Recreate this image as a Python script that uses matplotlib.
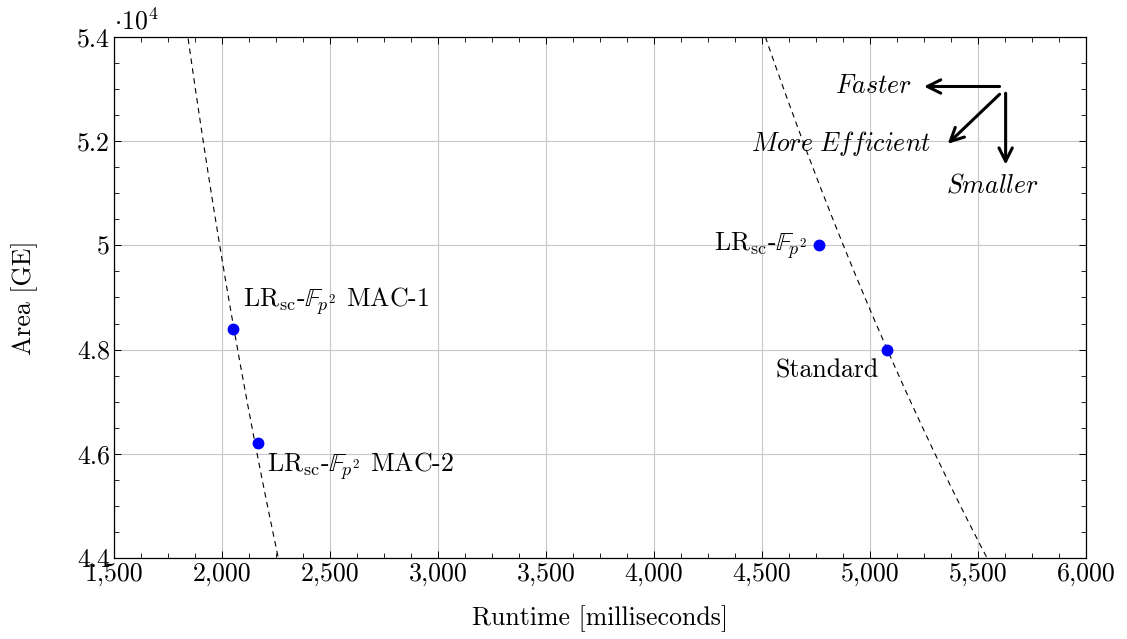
import numpy as np
import matplotlib.pyplot as plt
from matplotlib.ticker import MultipleLocator, FuncFormatter

plt.rcParams['font.family'] = 'serif'
plt.rcParams['font.serif'] = ['cmr10']
plt.rcParams['mathtext.fontset'] = 'cm'
plt.rcParams['axes.formatter.use_mathtext'] = True
plt.rcParams['font.size'] = 18.6

# data: runtime [ms], area [GE]
names = [r'LR$_{\rm sc}$-$\mathbb{F}_{p^2}$ MAC-1',
         r'LR$_{\rm sc}$-$\mathbb{F}_{p^2}$ MAC-2',
         r'LR$_{\rm sc}$-$\mathbb{F}_{p^2}$',
         'Standard']
runtime = [2050, 2165, 4765, 5080]
area = [48400, 46200, 50000, 48000]

# iso area*time curves (ms * GE)
iso_left = 2055 * 48400
iso_right = 5080 * 48000

fig = plt.figure(figsize=(11.27, 6.39), dpi=100)
ax = fig.add_axes([0.1012, 0.1268, 0.8624, 0.8153])

xs = np.linspace(1500, 6000, 600)
ax.plot(xs, iso_left / xs, 'k--', lw=0.8, dashes=(5, 4))
ax.plot(xs, iso_right / xs, 'k--', lw=0.8, dashes=(5, 4))

ax.plot(runtime, area, 'o', color='#0000ff', ms=7.5, zorder=5)

# point labels
ax.annotate(names[0], (runtime[0], area[0]), xytext=(7, 20), textcoords='offset points',
            ha='left', va='center')
ax.annotate(names[1], (runtime[1], area[1]), xytext=(7, -16), textcoords='offset points',
            ha='left', va='center')
ax.annotate(names[2], (runtime[2], area[2]), xytext=(-9, 0), textcoords='offset points',
            ha='right', va='center')
ax.annotate(names[3], (runtime[3], area[3]), xytext=(-6, -15), textcoords='offset points',
            ha='right', va='center')

# direction arrows
akw = dict(arrowstyle='->', lw=2.2, color='k', mutation_scale=24, shrinkA=0, shrinkB=0)
ax.annotate('', xy=(5250, 53050), xytext=(5600, 53050), arrowprops=akw)
ax.annotate('', xy=(5360, 51950), xytext=(5600, 52900), arrowprops=akw)
ax.annotate('', xy=(5628, 51550), xytext=(5628, 52920), arrowprops=akw)
ax.text(5195, 53050, r'$\mathit{Faster}$', ha='right', va='center')
ax.text(5285, 51950, r'$\mathit{More\ Efficient}$', ha='right', va='center')
ax.text(5565, 51150, r'$\mathit{Smaller}$', ha='center', va='center')

ax.set_xlim(1500, 6000)
ax.set_ylim(44000, 54000)
ax.xaxis.set_major_locator(MultipleLocator(500))
ax.xaxis.set_minor_locator(MultipleLocator(125))
ax.yaxis.set_major_locator(MultipleLocator(2000))
ax.yaxis.set_minor_locator(MultipleLocator(500))
ax.xaxis.set_major_formatter(FuncFormatter(lambda v, p: f'{v:,.0f}'))
ax.yaxis.set_major_formatter(FuncFormatter(lambda v, p: f'{v / 1e4:g}'))
ax.text(0.0, 1.005, r'$\cdot 10^4$', transform=ax.transAxes, ha='left', va='bottom')

ax.grid(True, which='major', color='#c8c8c8', lw=0.8)
ax.set_axisbelow(True)
ax.tick_params(which='both', direction='in', top=True, right=True, color='k')
ax.tick_params(which='major', length=5, width=0.7, pad=3)
ax.tick_params(which='minor', length=3.5, width=0.6)
for s in ax.spines.values():
    s.set_linewidth(0.9)

ax.set_xlabel('Runtime [milliseconds]', labelpad=14)
ax.set_ylabel('Area [GE]', labelpad=28)

fig.savefig('out.png', dpi=100)
